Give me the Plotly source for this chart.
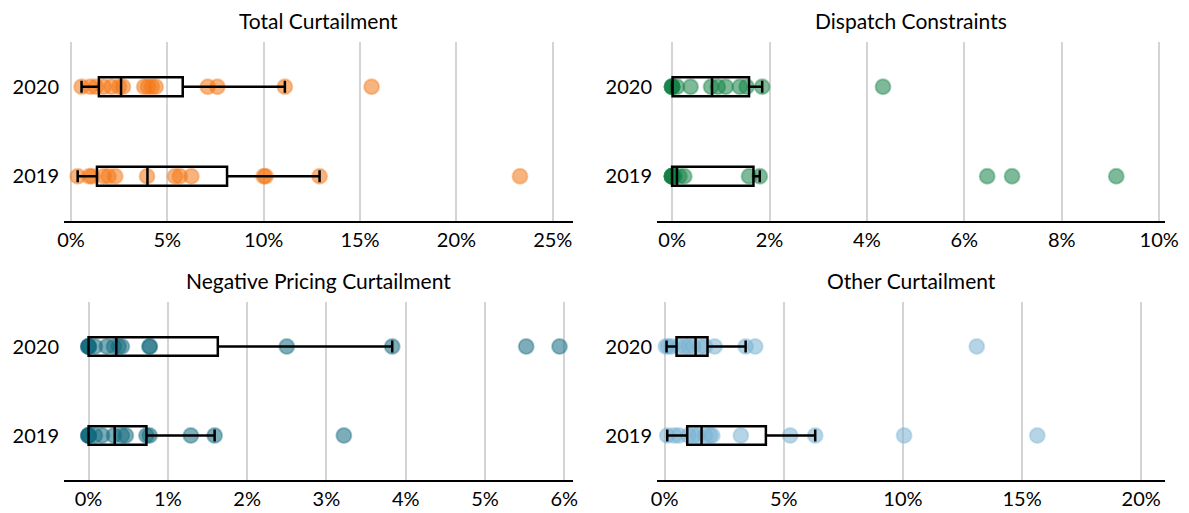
import plotly.graph_objects as go

# ---- data: curtailment share by year (percent) ----
years = ["2019", "2020"]

total_2019 = [0.35, 0.95, 1.1, 1.7, 1.95, 2.3, 3.95, 5.4, 5.65, 6.25, 10.0, 10.1, 12.9, 23.3]
total_2020 = [0.55, 1.0, 1.3, 1.7, 2.1, 2.5, 2.7, 3.8, 4.0, 4.2, 4.4, 7.1, 7.6, 11.1, 15.6]

dispatch_2019 = [0, 0, 0, 0, 0, 0, 0.05, 0.15, 0.25, 1.58, 1.8, 6.47, 6.98, 9.12]
dispatch_2020 = [0, 0, 0, 0, 0.1, 0.38, 0.8, 0.94, 1.1, 1.39, 1.53, 1.85, 4.33]

negative_2019 = [0, 0, 0, 0, 0.08, 0.17, 0.32, 0.42, 0.47, 0.73, 0.77, 1.29, 1.59, 3.22]
negative_2020 = [0, 0, 0, 0, 0.08, 0.23, 0.32, 0.38, 0.42, 0.77, 0.77, 2.5, 3.83, 5.52, 5.94]

other_2019 = [0.11, 0.4, 0.6, 1.0, 1.2, 1.4, 1.7, 1.9, 2.0, 3.2, 5.27, 6.32, 10.05, 15.64]
other_2020 = [0.05, 0.15, 0.3, 0.6, 0.85, 1.0, 1.2, 1.5, 1.7, 2.1, 3.4, 3.8, 13.1]

# box statistics per year [2019, 2020]
total_q1, total_med, total_q3 = [1.35, 1.45], [3.97, 2.6], [8.1, 5.8]
total_lo, total_hi = [0.35, 0.55], [12.9, 11.1]

dispatch_q1, dispatch_med, dispatch_q3 = [0.0, 0.01], [0.1, 0.82], [1.67, 1.58]
dispatch_lo, dispatch_hi = [0.0, 0.0], [1.8, 1.85]

negative_q1, negative_med, negative_q3 = [0.0, 0.0], [0.33, 0.35], [0.73, 1.63]
negative_lo, negative_hi = [0.0, 0.0], [1.59, 3.83]

other_q1, other_med, other_q3 = [0.95, 0.5], [1.55, 1.3], [4.25, 1.8]
other_lo, other_hi = [0.11, 0.08], [6.32, 3.4]

titles = ["Total Curtailment", "Dispatch Constraints",
          "Negative Pricing Curtailment", "Other Curtailment"]

panels = [
    dict(p19=total_2019, p20=total_2020, q1=total_q1, med=total_med, q3=total_q3,
         lo=total_lo, hi=total_hi, rgb=(243, 118, 20), rng=[-0.36, 26.05], dtick=5),
    dict(p19=dispatch_2019, p20=dispatch_2020, q1=dispatch_q1, med=dispatch_med, q3=dispatch_q3,
         lo=dispatch_lo, hi=dispatch_hi, rgb=(20, 130, 70), rng=[-0.31, 10.12], dtick=2),
    dict(p19=negative_2019, p20=negative_2020, q1=negative_q1, med=negative_med, q3=negative_q3,
         lo=negative_lo, hi=negative_hi, rgb=(18, 105, 125), rng=[-0.31, 6.11], dtick=1),
    dict(p19=other_2019, p20=other_2020, q1=other_q1, med=other_med, q3=other_q3,
         lo=other_lo, hi=other_hi, rgb=(120, 178, 210), rng=[-0.32, 21.0], dtick=5),
]

W, H = 1189, 513
FONT = "Lato"
xdoms = [[64 / W, 573 / W], [657 / W, 1165 / W]]
ydoms = [[1 - 221 / H, 1 - 42 / H], [1 - 480 / H, 1 - 302 / H]]

fig = go.Figure()
layout = {}
annotations = []

for i, p in enumerate(panels):
    row, col = divmod(i, 2)
    n = i + 1
    xa = "x" if n == 1 else f"x{n}"
    ya = "y" if n == 1 else f"y{n}"
    r, g, b = p["rgb"]

    # individual observations, drawn as box-trace points so the outline sits above them
    ys = ["2019"] * len(p["p19"]) + ["2020"] * len(p["p20"])
    fig.add_trace(go.Box(
        x=p["p19"] + p["p20"], y=ys, orientation="h",
        boxpoints="all", jitter=0, pointpos=0, width=0.21,
        line=dict(width=0, color="rgba(0,0,0,0)"), fillcolor="rgba(0,0,0,0)",
        marker=dict(size=15, color=f"rgba({r},{g},{b},0.55)",
                    line=dict(width=2, color=f"rgba({r},{g},{b},0.35)")),
        whiskerwidth=0, showlegend=False, hoverinfo="x",
        xaxis=xa, yaxis=ya,
    ))

    # box outline from the quartile statistics
    fig.add_trace(go.Box(
        y=years, orientation="h",
        q1=p["q1"], median=p["med"], q3=p["q3"],
        lowerfence=p["lo"], upperfence=p["hi"],
        boxpoints=False, width=0.21, whiskerwidth=0.63,
        line=dict(color="black", width=2.5), fillcolor="rgba(0,0,0,0)",
        showlegend=False, xaxis=xa, yaxis=ya,
    ))

    layout[f"xaxis{'' if n == 1 else n}"] = dict(
        domain=xdoms[col], anchor=ya, range=p["rng"], dtick=p["dtick"], tick0=0,
        ticksuffix="%", showgrid=True, gridcolor="#d4d4d4", gridwidth=2,
        zeroline=False, showline=True, linecolor="black", linewidth=2,
        ticks="", automargin=False,
        tickfont=dict(family=FONT, size=20, color="black"),
        fixedrange=True,
    )
    layout[f"yaxis{'' if n == 1 else n}"] = dict(
        domain=ydoms[row], anchor=xa, type="category",
        categoryorder="array", categoryarray=years, range=[-0.5, 1.5],
        showgrid=False, zeroline=False, showline=False, ticks="",
        ticklabelstandoff=4, automargin=False,
        tickfont=dict(family=FONT, size=20, color="black"), fixedrange=True,
    )
    annotations.append(dict(
        text=titles[i], xref="paper", yref="paper",
        x=sum(xdoms[col]) / 2, y=ydoms[row][1] + 22 / H,
        xanchor="center", yanchor="middle", showarrow=False,
        font=dict(family=FONT, size=21, color="black"),
    ))

fig.update_layout(
    **layout,
    annotations=annotations,
    width=W, height=H,
    margin=dict(l=0, r=0, t=0, b=0, autoexpand=False),
    paper_bgcolor="white", plot_bgcolor="white",
    boxmode="overlay",
    font=dict(family=FONT, size=20, color="black"),
)

fig.write_html("out.html")
